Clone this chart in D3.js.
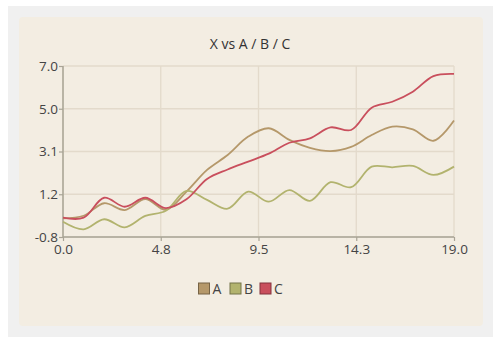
<!DOCTYPE html>
<html>
<head>
<meta charset="utf-8">
<script src="https://cdn.jsdelivr.net/npm/d3@7"></script>
<style>
  html, body { margin: 0; padding: 0; background: #ffffff; }
  svg { display: block; }
  text { font-family: "Open Sans", "Noto Sans", sans-serif; }
</style>
</head>
<body>
<svg id="chart" width="500" height="343"></svg>
<script>
const xValues = [0,1,2,3,4,5,6,7,8,9,10,11,12,13,14,15,16,17,18,19];
const seriesA = [0.05,0.17,0.74,0.43,0.93,0.44,1.27,2.26,2.94,3.78,4.16,3.63,3.27,3.12,3.31,3.85,4.23,4.11,3.59,4.51];
const seriesB = [-0.10,-0.45,0.01,-0.36,0.16,0.40,1.30,0.89,0.49,1.27,0.81,1.34,0.85,1.70,1.47,2.41,2.38,2.44,2.03,2.41];
const seriesC = [0.08,0.08,0.99,0.58,0.99,0.52,0.92,1.85,2.28,2.64,3.00,3.50,3.70,4.20,4.08,5.10,5.37,5.83,6.54,6.64];
const seriesNames = ["A","B","C"];
const seriesColors = ["#b5986a","#b2b36e","#c94f5d"];
const xTickValues = [0, 4.75, 9.5, 14.25, 19];
const xTickLabels = ["0.0","4.8","9.5","14.3","19.0"];
const yTickValues = [-0.8, 1.15, 3.1, 5.05, 7.0];
const yTickLabels = ["-0.8","1.2","3.1","5.0","7.0"];
const title = "X vs A / B / C";

const svg = d3.select("#chart");
svg.append("rect").attr("x",8).attr("y",6).attr("width",485).attr("height",331).attr("fill","#f0f0f0");
svg.append("rect").attr("x",19).attr("y",17).attr("width",464).attr("height",309).attr("rx",4).attr("fill","#f3ede2");

const mLeft = 63, mRight = 454, mTop = 66, mBottom = 237;
const x = d3.scaleLinear().domain([0,19]).range([mLeft,mRight]);
const y = d3.scaleLinear().domain([-0.8,7]).range([mBottom,mTop]);

svg.append("text").attr("x",250).attr("y",49).attr("text-anchor","middle")
  .attr("font-size",14).attr("fill","#333").text(title);

// grid
const g = svg.append("g");
g.selectAll("line.hg").data(yTickValues).enter().append("line")
  .attr("x1",mLeft).attr("x2",mRight).attr("y1",d=>y(d)).attr("y2",d=>y(d))
  .attr("stroke","#e3dacb").attr("stroke-width",1.3);
g.selectAll("line.vg").data(xTickValues).enter().append("line")
  .attr("y1",mTop).attr("y2",mBottom).attr("x1",d=>x(d)).attr("x2",d=>x(d))
  .attr("stroke","#e3dacb").attr("stroke-width",1.3);

// axes
const xAxis = d3.axisBottom(x).tickValues(xTickValues).tickSize(4).tickPadding(3)
  .tickFormat((d,i)=>xTickLabels[i]);
const yAxis = d3.axisLeft(y).tickValues(yTickValues).tickSize(4).tickPadding(1)
  .tickFormat((d,i)=>yTickLabels[i]);
const ax = svg.append("g").attr("transform",`translate(0,${mBottom})`).call(xAxis);
const ay = svg.append("g").attr("transform",`translate(${mLeft},0)`).call(yAxis);
[ax, ay].forEach(a=>{
  a.select(".domain").attr("stroke","#a9a496").attr("stroke-width",1.5);
  a.selectAll(".tick line").attr("stroke","#a9a496").attr("stroke-width",1.2);
  a.selectAll(".tick text").attr("font-size",13.5).attr("fill","#444")
    .attr("font-family","'Open Sans', 'Noto Sans', sans-serif");
});
ax.select(".domain").attr("d",`M${mLeft},0H${mRight}`);
ay.select(".domain").attr("d",`M0,${mTop}V${mBottom}`);

// lines
const seriesData = [seriesA, seriesB, seriesC];
const line = d3.line().x((d,i)=>x(xValues[i])).y(d=>y(d)).curve(d3.curveCatmullRom.alpha(0.5));
seriesData.forEach((s,k)=>{
  svg.append("path").datum(s).attr("d",line).attr("fill","none")
    .attr("stroke",seriesColors[k]).attr("stroke-width",1.8);
});

// legend
const legX = [198.5, 230, 260];
seriesNames.forEach((n,k)=>{
  svg.append("rect").attr("x",legX[k]).attr("y",283).attr("width",11).attr("height",11)
    .attr("fill",seriesColors[k]).attr("stroke",d3.color(seriesColors[k]).darker(1.2)).attr("stroke-width",1);
  svg.append("text").attr("x",legX[k]+14).attr("y",294).attr("font-size",14)
    .attr("fill","#444").text(n);
});
</script>
</body>
</html>
